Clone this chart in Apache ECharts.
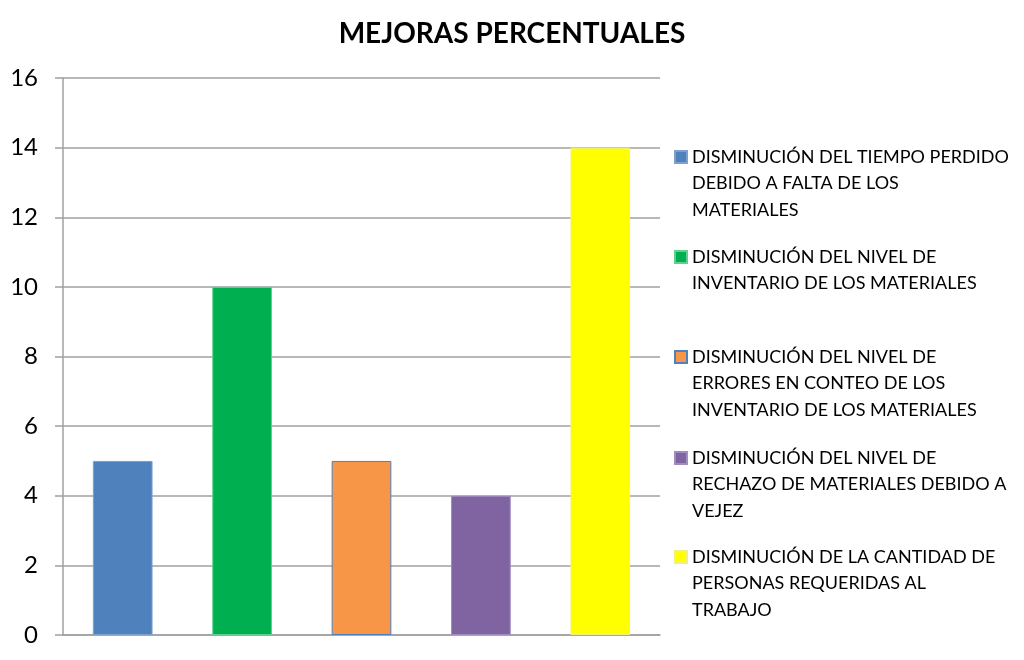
<!DOCTYPE html>
<html>
<head>
<meta charset="utf-8">
<script src="https://cdn.jsdelivr.net/npm/echarts@6/dist/echarts.min.js"></script>
<style>html,body{margin:0;padding:0;background:#fff}#c{width:1024px;height:660px}</style>
</head>
<body>
<div id="c"></div>
<script>
const title = 'MEJORAS PERCENTUALES';
const categories = ['A', 'B', 'C', 'D', 'E'];
const seriesNames = [
  'DISMINUCIÓN DEL TIEMPO PERDIDO DEBIDO A FALTA DE LOS MATERIALES',
  'DISMINUCIÓN DEL NIVEL DE INVENTARIO DE LOS MATERIALES',
  'DISMINUCIÓN DEL NIVEL DE ERRORES EN CONTEO DE LOS INVENTARIO DE LOS MATERIALES',
  'DISMINUCIÓN DEL NIVEL DE RECHAZO DE MATERIALES DEBIDO A VEJEZ',
  'DISMINUCIÓN DE LA CANTIDAD DE PERSONAS REQUERIDAS AL TRABAJO'
];
const legendLines = [
  ['DISMINUCIÓN DEL TIEMPO PERDIDO', 'DEBIDO A FALTA DE LOS', 'MATERIALES'],
  ['DISMINUCIÓN DEL NIVEL DE', 'INVENTARIO DE LOS MATERIALES'],
  ['DISMINUCIÓN DEL NIVEL DE', 'ERRORES EN CONTEO DE LOS', 'INVENTARIO DE LOS MATERIALES'],
  ['DISMINUCIÓN DEL NIVEL DE', 'RECHAZO DE MATERIALES DEBIDO A', 'VEJEZ'],
  ['DISMINUCIÓN DE LA CANTIDAD DE', 'PERSONAS REQUERIDAS AL', 'TRABAJO']
];
const values = [5, 10, 5, 4, 14];
const yMin = 0, yMax = 16, yInterval = 2;

const colors = ['#4F81BD', '#00B050', '#F79646', '#8064A2', '#FFFF00'];
const borders = ['#7F9FD0', '#5FD08F', '#4F81BD', '#A08CC0', '#F0F080'];
const legendFirstLineY = [157, 257, 357, 458, 557];
const LH = 26.5;
const FONT = 'Lato';

const chart = echarts.init(document.getElementById('c'));

const series = seriesNames.map((name, i) => ({
  name: name,
  type: 'bar',
  stack: 'all',
  barCategoryGap: '50%',
  data: categories.map((c, j) => (j === i ? values[i] : null)),
  itemStyle: { color: colors[i], borderColor: borders[i], borderWidth: 1 }
}));

const legends = seriesNames.map((name, i) => {
  const n = legendLines[i].length;
  const pad = new Array(n - 1).fill(' ');
  return {
    data: [name],
    orient: 'vertical',
    left: 674,
    top: legendFirstLineY[i] - (n - 0.5) * LH,
    padding: 0,
    itemWidth: 12,
    itemHeight: 12,
    icon: 'rect',
    selectedMode: false,
    formatter: () => pad.concat(legendLines[i]).join('\n'),
    textStyle: {
      fontFamily: FONT,
      fontSize: 18,
      color: '#000',
      lineHeight: LH
    }
  };
});

chart.setOption({
  animation: false,
  title: {
    text: title,
    left: 'center',
    top: 15,
    textStyle: { fontFamily: FONT, fontSize: 28, fontWeight: 'bold', color: '#000' }
  },
  legend: legends,
  grid: { left: 63, right: 364, top: 78, bottom: 25, containLabel: false },
  xAxis: {
    type: 'category',
    data: categories,
    axisLine: { lineStyle: { color: '#A0A0A0', width: 1.5 } },
    axisTick: { show: false },
    axisLabel: { show: false }
  },
  yAxis: {
    type: 'value',
    min: yMin,
    max: yMax,
    interval: yInterval,
    axisLine: { show: true, lineStyle: { color: '#A0A0A0', width: 1.5 } },
    axisTick: { show: true, length: 8, lineStyle: { color: '#A0A0A0', width: 1.5 } },
    splitLine: { lineStyle: { color: '#A0A0A0', width: 1.5 } },
    axisLabel: { fontFamily: FONT, fontSize: 24, color: '#000', margin: 25 }
  },
  series: series
});
</script>
</body>
</html>
